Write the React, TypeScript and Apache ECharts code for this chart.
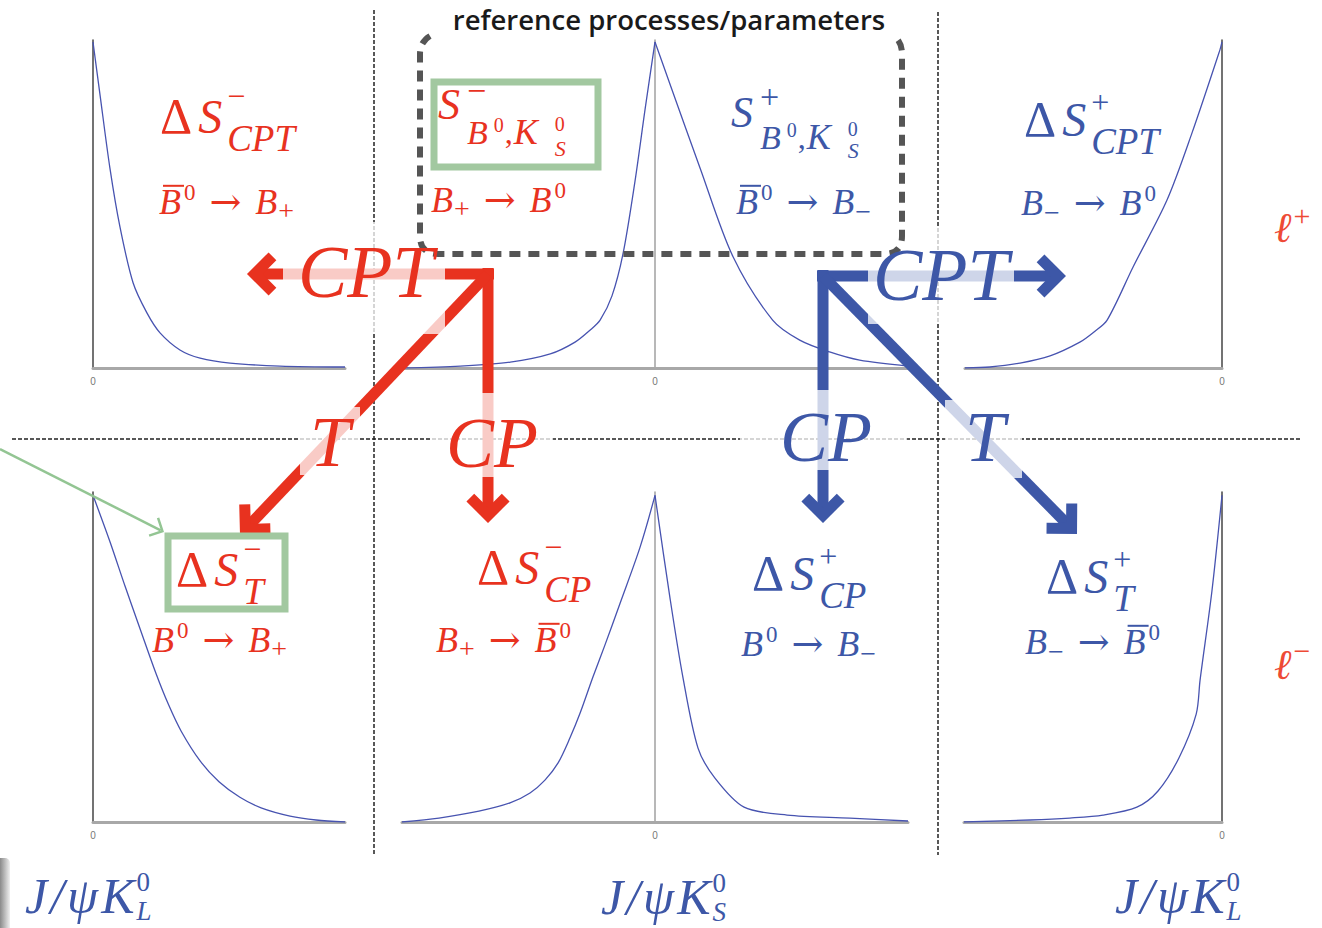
import React, { useEffect, useRef } from "react";
import * as echarts from "echarts";

// ---------- data (t = time axis units, y = normalised rate) ----------
const tlT = [0, 0.28, 0.67, 1.07, 1.59, 2.14, 2.66, 3.45, 4.25, 5.44, 7.42, 10];
const tlY = [0.994, 0.832, 0.61, 0.43, 0.26, 0.168, 0.107, 0.055, 0.03, 0.015, 0.006, 0.003];
const tmLeftT = [-10, -7.7, -5.72, -4.14, -3.16, -2.56, -2.17, -1.7, -1.26, -0.79, -0.39, 0];
const tmLeftY = [0, 0.006, 0.018, 0.043, 0.079, 0.116, 0.146, 0.22, 0.35, 0.57, 0.79, 0.994];
const tmRightT = [0, 0.59, 1.78, 3.08, 4.65, 5.72, 6.9, 8.09, 10];
const tmRightY = [0.994, 0.866, 0.61, 0.34, 0.146, 0.085, 0.049, 0.024, 0.006];
const trT = [-10, -9.03, -7.86, -6.69, -5.53, -4.98, -4.47, -3.46, -2.14, -1.17, -0.08, 0];
const trY = [0, 0.003, 0.015, 0.037, 0.079, 0.11, 0.146, 0.308, 0.512, 0.716, 0.97, 0.994];
const blT = [0, 0.67, 1.27, 1.87, 2.5, 3.0, 3.5, 4.25, 5.0, 5.83, 6.67, 7.82, 8.85, 10];
const blY = [0.99, 0.85, 0.715, 0.585, 0.45, 0.355, 0.275, 0.185, 0.122, 0.075, 0.043, 0.018, 0.006, 0];
const bmLeftT = [-10, -8.54, -6.96, -5.73, -4.94, -4.35, -3.83, -3.36, -2.96, -2.45, -1.98, -1.38, -0.59, 0];
const bmLeftY = [0, 0.012, 0.033, 0.058, 0.088, 0.127, 0.179, 0.255, 0.33, 0.44, 0.536, 0.663, 0.833, 0.99];
const bmRightT = [0, 0.59, 1.1, 1.7, 2.37, 3.52, 5.22, 7.7, 10];
const bmRightY = [0.99, 0.68, 0.44, 0.224, 0.133, 0.045, 0.021, 0.012, 0.003];
const brT = [-10, -7.44, -5.9, -4.61, -3.3, -2.48, -1.67, -1.0, -0.85, -0.39, 0];
const brY = [0, 0.006, 0.012, 0.021, 0.045, 0.094, 0.194, 0.327, 0.43, 0.7, 0.99];

const tickLabels = ["0"];
const titleText = "reference processes/parameters";

// ---------- styles ----------
const RED = "#e8321f";
const BLUE = "#3d57a7";
const LRED = "#ee4a35";
const CURVE = "#4753b0";
const GREEN = "#a2c8a0";
const SERIF = "'Liberation Serif','Times New Roman',serif";
const DJ = "'DejaVu Serif',serif";

type Tok = { t: string; s: number; i?: boolean; dy?: number; dx?: number; st?: boolean; b?: boolean; f?: string };
type Label = { x: number; y: number; c: string; toks: Tok[] };

// token builders (typography only)
const Bi = (bar = false): Tok => ({ t: "B", s: 36, i: true, dx: 0, b: bar });
const Bn = (): Tok => ({ t: "B", s: 36, i: true, dx: 14 });
const sup0 = (): Tok => ({ t: "0", s: 23, dy: -10, dx: 3 });
const arr = (): Tok => ({ t: "→", s: 38, f: DJ, dy: 0, dx: 14 });
const subP = (): Tok => ({ t: "+", s: 28, dy: 8, dx: 1 });
const subM = (): Tok => ({ t: "−", s: 28, dy: 9, dx: 1 });
const dS = (x: number, y: number, c: string, sign: string, sub: string): Label => ({
  x, y, c,
  toks: [
    { t: "Δ", s: 50 },
    { t: "S", s: 48, i: true, dx: 6 },
    { t: sign, s: 32, dy: sign === "+" ? -17 : -20, dx: 5 },
    { t: sub, s: 37, i: true, dy: 22, st: true },
  ],
});
const sRef = (x: number, y: number, c: string, sign: string, d: number[]): Label => ({
  x, y, c,
  toks: [
    { t: "S", s: 44, i: true },
    { t: sign, s: 34, dy: d[0], dx: 7 },
    { t: "B", s: 34, i: true, dy: d[1], st: true },
    { t: "0", s: 20, dy: d[2], dx: 6 },
    { t: ",", s: 32, dy: d[1], dx: 1 },
    { t: "K", s: 36, i: true, dy: d[1], dx: 1 },
    { t: "0", s: 20, dy: d[3], dx: 17 },
    { t: "S", s: 22, i: true, dy: d[4], st: true },
  ],
});
const jpsi = (x: number, y: number, sub: string): Label => ({
  x, y, c: BLUE,
  toks: [
    { t: "J", s: 50, i: true },
    { t: "/", s: 50, i: true, dx: 3 },
    { t: "ψ", s: 50, i: true, dx: 3 },
    { t: "K", s: 50, i: true, dx: 3 },
    { t: "0", s: 27, dy: -14, dx: 2 },
    { t: sub, s: 27, i: true, dy: 15, st: true },
  ],
});

const labels: Label[] = [
  dS(160, 116, RED, "−", "CPT"),
  { x: 159, y: 202, c: RED, toks: [Bi(true), sup0(), arr(), Bn(), subP()] },
  sRef(438, 104, RED, "−", [-14, 28, 21, 20, 44]),
  { x: 431, y: 200, c: RED, toks: [Bi(), subP(), arr(), Bn(), sup0()] },
  sRef(731, 112, BLUE, "+", [-16, 25, 18, 17, 38]),
  { x: 736, y: 202, c: BLUE, toks: [Bi(true), sup0(), arr(), Bn(), subM()] },
  dS(1024, 119, BLUE, "+", "CPT"),
  { x: 1021, y: 203, c: BLUE, toks: [Bi(), subM(), arr(), Bn(), sup0()] },
  dS(176, 569, RED, "−", "T"),
  { x: 152, y: 640, c: RED, toks: [Bi(), sup0(), arr(), Bn(), subP()] },
  dS(477, 567, RED, "−", "CP"),
  { x: 436, y: 640, c: RED, toks: [Bi(), subP(), arr(), { ...Bn(), b: true }, sup0()] },
  dS(752, 573, BLUE, "+", "CP"),
  { x: 741, y: 644, c: BLUE, toks: [Bi(), sup0(), arr(), Bn(), subM()] },
  dS(1046, 576, BLUE, "+", "T"),
  { x: 1025, y: 642, c: BLUE, toks: [Bi(), subM(), arr(), { ...Bn(), b: true }, sup0()] },
  jpsi(25, 896, "L"),
  jpsi(601, 897, "S"),
  jpsi(1115, 896, "L"),
  { x: 1274, y: 228, c: LRED, toks: [{ t: "ℓ", s: 42, i: true }, { t: "+", s: 30, dy: -13, dx: 2 }] },
  { x: 1274, y: 665, c: LRED, toks: [{ t: "ℓ", s: 42, i: true }, { t: "−", s: 30, dy: -15, dx: 2 }] },
  // operation labels on the arrows
  { x: 298, y: 272, c: RED, toks: [{ t: "CPT", s: 74, i: true }] },
  { x: 446, y: 443, c: RED, toks: [{ t: "CP", s: 72, i: true }] },
  { x: 310, y: 442, c: RED, toks: [{ t: "T", s: 72, i: true }] },
  { x: 873, y: 275, c: BLUE, toks: [{ t: "CPT", s: 74, i: true }] },
  { x: 780, y: 437, c: BLUE, toks: [{ t: "CP", s: 72, i: true }] },
  { x: 965, y: 437, c: BLUE, toks: [{ t: "T", s: 72, i: true }] },
];

let measureCtx: CanvasRenderingContext2D | null = null;
function measure(text: string, size: number, italic: boolean, fam: string) {
  if (!measureCtx) measureCtx = document.createElement("canvas").getContext("2d");
  measureCtx!.font = `${italic ? "italic " : ""}${size}px ${fam}`;
  return measureCtx!.measureText(text).width;
}

function layoutLabel(lb: Label, out: any[]) {
  let cx = lb.x;
  let prevStart = lb.x;
  lb.toks.forEach((tk, idx) => {
    const fam = tk.f || SERIF;
    const w = measure(tk.t, tk.s, !!tk.i, fam);
    const start = tk.st ? prevStart : idx === 0 ? lb.x : cx + (tk.dx || 0);
    const y = lb.y + (tk.dy || 0);
    out.push({
      type: "text", x: start, y, z: 40, silent: true,
      style: {
        text: tk.t, fill: lb.c, fontSize: tk.s, fontFamily: fam,
        fontStyle: tk.i ? "italic" : "normal", lineHeight: Math.round(tk.s * 0.75),
        align: "left", verticalAlign: "middle", textAlign: "left", textVerticalAlign: "middle",
      },
    });
    if (tk.b) {
      out.push(seg(start + 4, y - tk.s * 0.45, start + w + 3, y - tk.s * 0.45, lb.c, 2, 40));
    }
    prevStart = start;
    cx = tk.st ? Math.max(cx, start + w) : start + w;
  });
}

function seg(x1: number, y1: number, x2: number, y2: number, stroke: string, lineWidth: number, z = 10, lineDash?: number[]) {
  return { type: "line", z, silent: true, shape: { x1, y1, x2, y2 }, style: { stroke, lineWidth, lineDash, lineCap: "butt" } };
}

function arrow(fx: number, fy: number, tx: number, ty: number, color: string, w: number, len: number, z = 10) {
  const dx = tx - fx, dy = ty - fy;
  const L = Math.hypot(dx, dy);
  const ux = dx / L, uy = dy / L;
  const vx = tx - ux * w * 0.707, vy = ty - uy * w * 0.707;
  const c = Math.cos(Math.PI / 4), s = Math.sin(Math.PI / 4);
  const b1 = [vx + len * (-ux * c + uy * s), vy + len * (-ux * s - uy * c)];
  const b2 = [vx + len * (-ux * c - uy * s), vy + len * (ux * s - uy * c)];
  return [
    seg(fx, fy, vx - ux * 2, vy - uy * 2, color, w, z),
    {
      type: "polyline", z, silent: true,
      shape: { points: [b1, [vx, vy], b2] },
      style: { stroke: color, lineWidth: w, fill: null, lineJoin: "miter", lineCap: "butt" },
    },
  ];
}

function whiteBox(x: number, y: number, width: number, height: number) {
  return { type: "rect", z: 20, silent: true, shape: { x, y, width, height }, style: { fill: "rgba(255,255,255,0.75)" } };
}

const toPairs = (t: number[], y: number[]) => t.map((v, i) => [v, y[i]]);

const grids = [
  { left: 93, top: 40, width: 252, height: 328 },
  { left: 402, top: 40, width: 506, height: 328 },
  { left: 965, top: 40, width: 257, height: 328 },
  { left: 93, top: 492, width: 252, height: 330 },
  { left: 402, top: 492, width: 506, height: 330 },
  { left: 964, top: 492, width: 258, height: 330 },
];
const xRanges: [number, number][] = [[0, 10], [-10, 10], [-10, 0], [0, 10], [-10, 10], [-10, 0]];

let registered = false;

export default function App() {
  const ref = useRef<HTMLDivElement>(null);
  useEffect(() => {
    if (!ref.current) return;
    if (!registered) {
      const d = "M 430 36 Q 420 42 420 54 L 420 236 Q 420 254 438 254 L 884 254 Q 902 254 902 236 L 902 54 Q 902 42 894 36";
      echarts.graphic.registerShape("dashbox", echarts.graphic.extendPath(d, {}) as any);
      registered = true;
    }
    const chart = echarts.init(ref.current, undefined, { renderer: "svg" });

    const xAxis = grids.map((_, i) => ({
      type: "value", gridIndex: i, min: xRanges[i][0], max: xRanges[i][1], interval: 10,
      axisLine: { onZero: true, lineStyle: { color: "#a8a8a8", width: 3 } },
      axisTick: { show: false }, splitLine: { show: false },
      axisLabel: {
        formatter: (v: number) => (v === 0 ? tickLabels[0] : ""),
        fontSize: 10, color: "#777", margin: 8, fontFamily: "Arial, sans-serif",
      },
    }));
    const yAxis = grids.map((_, i) => ({
      type: "value", gridIndex: i, min: 0, max: 1,
      axisLine: { show: true, onZero: true, lineStyle: { color: i === 1 || i === 4 ? "#a0a0a0" : "#444", width: 1.5 } },
      axisTick: { show: false }, splitLine: { show: false }, axisLabel: { show: false },
    }));
    const line = (idx: number, data: number[][]) => ({
      type: "line", xAxisIndex: idx, yAxisIndex: idx, data, showSymbol: false, smooth: 0.3,
      lineStyle: { color: CURVE, width: 1.3 }, silent: true, z: 3,
    });
    const series = [
      line(0, toPairs(tlT, tlY)),
      line(1, toPairs(tmLeftT, tmLeftY)),
      line(1, toPairs(tmRightT, tmRightY)),
      line(2, toPairs(trT, trY)),
      line(3, toPairs(blT, blY)),
      line(4, toPairs(bmLeftT, bmLeftY)),
      line(4, toPairs(bmRightT, bmRightY)),
      line(5, toPairs(brT, brY)),
    ];

    const elements: any[] = [];
    elements.push(seg(374, 10, 374, 855, "#222", 1.5, 5, [4, 2]));
    elements.push(seg(938, 12, 938, 855, "#222", 1.5, 5, [4, 2]));
    elements.push(seg(12, 439, 1302, 439, "#222", 1.5, 5, [4, 2]));
    elements.push({
      type: "rect", z: 5, silent: true, shape: { x: 0, y: 858, width: 10, height: 70, r: [0, 5, 0, 0] },
      style: { fill: new echarts.graphic.LinearGradient(0, 0, 1, 0, [{ offset: 0, color: "#8a8a8a" }, { offset: 1, color: "#f0f0f0" }]) },
    });
    elements.push(...arrow(494, 274, 247, 274, RED, 11, 25));
    elements.push(...arrow(488, 268, 488, 523, RED, 11, 25));
    elements.push(...arrow(488, 274, 240, 535, RED, 11, 25));
    elements.push(...arrow(817, 276, 1066, 276, BLUE, 11, 25));
    elements.push(...arrow(823, 270, 823, 523, BLUE, 11, 25));
    elements.push(...arrow(823, 276, 1077, 534, BLUE, 11, 25));
    elements.push(...arrow(0, 449, 164, 532, "#93c593", 2.5, 14, 12));
    elements.push(whiteBox(283, 222, 162, 112));
    elements.push(whiteBox(868, 228, 146, 96));
    elements.push(whiteBox(430, 393, 123, 84));
    elements.push(whiteBox(740, 390, 167, 80));
    elements.push(whiteBox(300, 407, 60, 68));
    elements.push(whiteBox(945, 400, 77, 78));
    elements.push({
      type: "dashbox", x: 0, y: 0, z: 25, silent: true,
      style: { stroke: "#555", fill: null, lineWidth: 6, lineDash: [11, 8] },
    });
    elements.push({ type: "rect", z: 25, silent: true, shape: { x: 434, y: 82, width: 164, height: 85 }, style: { stroke: GREEN, lineWidth: 7, fill: null } });
    elements.push({ type: "rect", z: 25, silent: true, shape: { x: 168, y: 536, width: 117, height: 73 }, style: { stroke: GREEN, lineWidth: 7, fill: null } });
    labels.forEach((lb) => layoutLabel(lb, elements));
    elements.push({
      type: "text", x: 669, y: 19, z: 40, silent: true,
      style: {
        text: titleText, fill: "#1a1a1a", fontSize: 27.5, fontWeight: 600, fontFamily: "'Open Sans', sans-serif",
        align: "center", verticalAlign: "middle", textAlign: "center", textVerticalAlign: "middle",
      },
    });

    chart.setOption({
      animation: false,
      backgroundColor: "#ffffff",
      grid: grids.map((g) => ({ ...g, containLabel: false })),
      xAxis, yAxis, series,
      graphic: { elements },
    });
    return () => chart.dispose();
  }, []);
  return <div ref={ref} style={{ position: "absolute", left: 0, top: 0, width: 1322, height: 928 }} />;
}
